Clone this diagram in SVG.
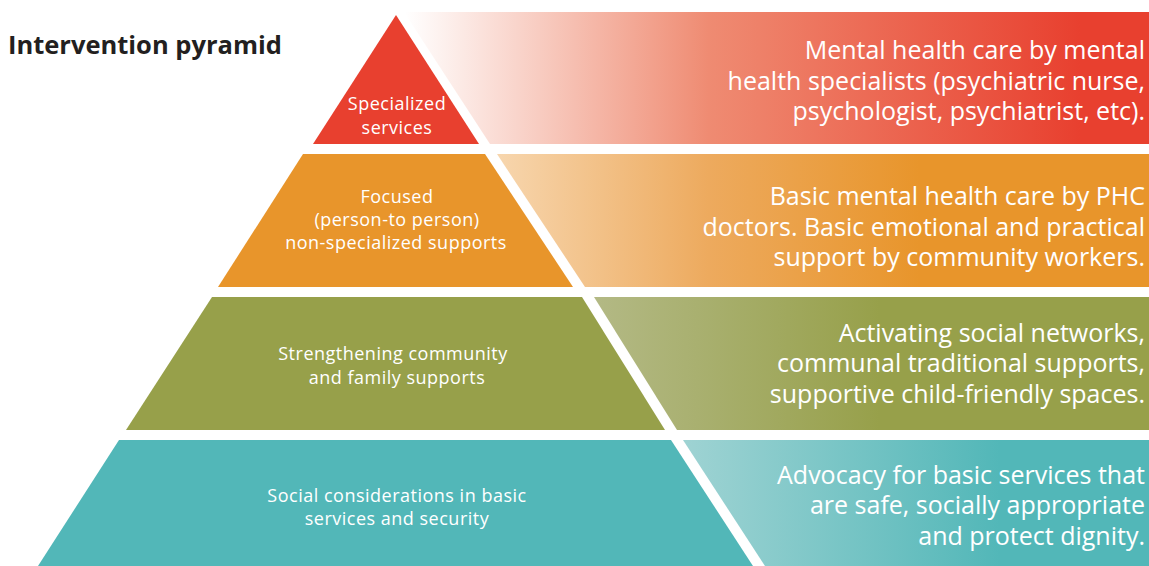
<svg xmlns="http://www.w3.org/2000/svg" width="1149" height="566" viewBox="0 0 1149 566">
  <defs>
    <linearGradient id="gRed" gradientUnits="userSpaceOnUse" x1="405" y1="0" x2="1080" y2="0">
      <stop offset="0" stop-color="#FFFFFF"/>
      <stop offset="0.45" stop-color="#EF8B72"/>
      <stop offset="1" stop-color="#E8402F"/>
    </linearGradient>
    <linearGradient id="gOrange" gradientUnits="userSpaceOnUse" x1="497" y1="0" x2="920" y2="0">
      <stop offset="0" stop-color="#F7D6AE"/>
      <stop offset="0.5" stop-color="#EDAA5E"/>
      <stop offset="1" stop-color="#E8952B"/>
    </linearGradient>
    <linearGradient id="gGreen" gradientUnits="userSpaceOnUse" x1="594" y1="0" x2="880" y2="0">
      <stop offset="0" stop-color="#B3B985"/>
      <stop offset="1" stop-color="#97A04A"/>
    </linearGradient>
    <linearGradient id="gTeal" gradientUnits="userSpaceOnUse" x1="683" y1="0" x2="1000" y2="0">
      <stop offset="0" stop-color="#9FD3D3"/>
      <stop offset="1" stop-color="#52B7B8"/>
    </linearGradient>
  </defs>
  <style>
    .lbl { font-family: "Open Sans", "Liberation Sans", sans-serif; font-size: 18px; letter-spacing: 0.5px; fill: #FFFFFF; text-anchor: middle; }
    .desc { font-family: "Open Sans", "Liberation Sans", sans-serif; font-size: 25px; fill: #FFFFFF; text-anchor: end; }
    .title { font-family: "Open Sans", "Liberation Sans", sans-serif; font-size: 25.5px; font-weight: bold; fill: #231F20; }
  </style>
  <rect x="0" y="0" width="1149" height="566" fill="#FFFFFF"/>
  <text class="title" x="8" y="54">Intervention pyramid</text>

  <g id="layer-specialized">
    <polygon points="404,12 1149,12 1149,144 490,144" fill="url(#gRed)"/>
    <polygon points="396,15 479,144 313,144" fill="#E8402F"/>
    <text class="lbl" x="397" y="110">Specialized</text>
    <text class="lbl" x="397" y="134">services</text>
    <text class="desc" x="1145" y="59">Mental health care by mental</text>
    <text class="desc" x="1145" y="90">health specialists (psychiatric nurse,</text>
    <text class="desc" x="1145" y="120">psychologist, psychiatrist, etc).</text>
  </g>

  <g id="layer-focused">
    <polygon points="497,154 1149,154 1149,287 585,287" fill="url(#gOrange)"/>
    <polygon points="303,154 485,154 573,287 218,287" fill="#E8952B"/>
    <text class="lbl" x="397" y="203">Focused</text>
    <text class="lbl" x="397" y="226">(person-to person)</text>
    <text class="lbl" x="396" y="249">non-specialized supports</text>
    <text class="desc" x="1145" y="205">Basic mental health care by PHC</text>
    <text class="desc" x="1145" y="236">doctors. Basic emotional and practical</text>
    <text class="desc" x="1145" y="266">support by community workers.</text>
  </g>

  <g id="layer-community">
    <polygon points="594,297 1149,297 1149,430 677,430" fill="url(#gGreen)"/>
    <polygon points="212,297 582,297 665,430 126,430" fill="#97A04A"/>
    <text class="lbl" x="393" y="360">Strengthening community</text>
    <text class="lbl" x="397" y="384">and family supports</text>
    <text class="desc" x="1145" y="342">Activating social networks,</text>
    <text class="desc" x="1145" y="372">communal traditional supports,</text>
    <text class="desc" x="1145" y="403">supportive child-friendly spaces.</text>
  </g>

  <g id="layer-basic">
    <polygon points="683,440 1149,440 1149,566 765,566" fill="url(#gTeal)"/>
    <polygon points="119,440 671,440 753,566 38,566" fill="#52B7B8"/>
    <text class="lbl" x="397" y="502">Social considerations in basic</text>
    <text class="lbl" x="397" y="525">services and security</text>
    <text class="desc" x="1145" y="484">Advocacy for basic services that</text>
    <text class="desc" x="1145" y="514">are safe, socially appropriate</text>
    <text class="desc" x="1145" y="545">and protect dignity.</text>
  </g>

  <g id="connectors"/>
</svg>
